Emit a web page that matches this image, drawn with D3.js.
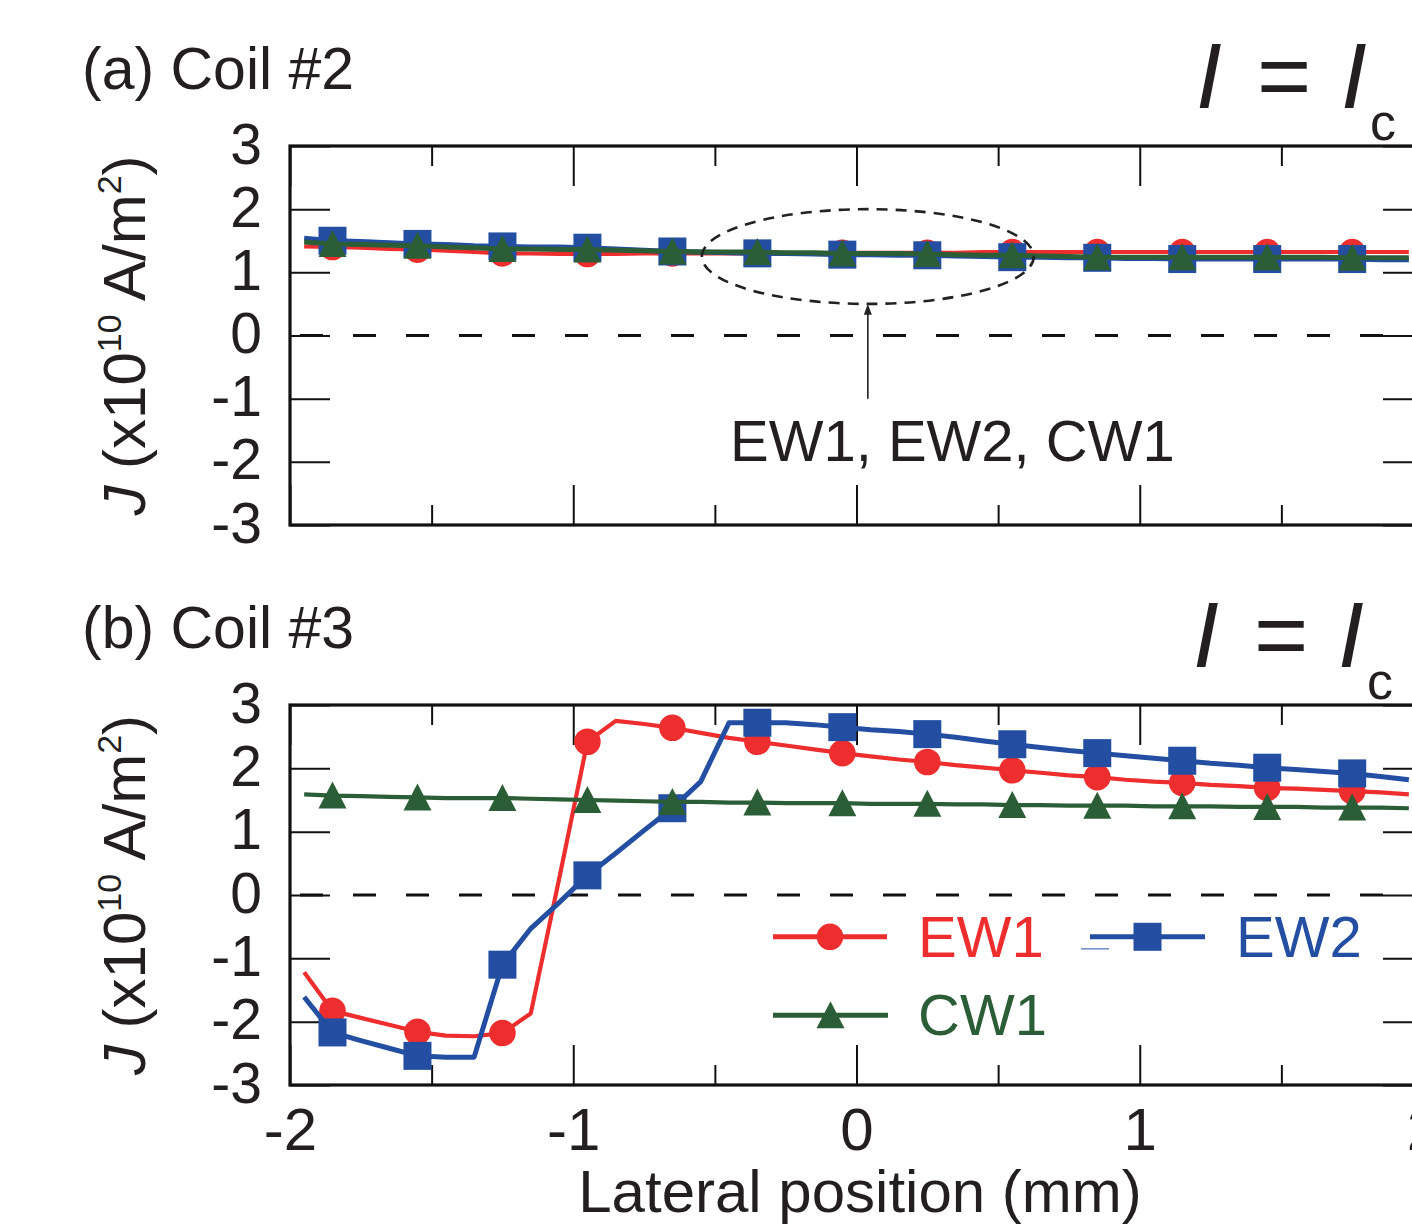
<!DOCTYPE html>
<html>
<head>
<meta charset="utf-8">
<script src="https://cdn.jsdelivr.net/npm/d3@7"></script>
<style>
  html, body { margin: 0; padding: 0; background: #fff; }
  svg { display: block; }
  text { font-family: "Liberation Sans", Arial, Helvetica, sans-serif; fill: #231f20; }
</style>
</head>
<body>
<svg id="chart" width="1412" height="1227"></svg>
<script>
// ---------------- data ----------------
const xPos = [-1.95,-1.85,-1.75,-1.65,-1.55,-1.45,-1.35,-1.25,-1.15,-1.05,
              -0.95,-0.85,-0.75,-0.65,-0.55,-0.45,-0.35,-0.25,-0.15,-0.05,
               0.05, 0.15, 0.25, 0.35, 0.45, 0.55, 0.65, 0.75, 0.85, 0.95,
               1.05, 1.15, 1.25, 1.35, 1.45, 1.55, 1.65, 1.75, 1.85, 1.95];
const markerX = [-1.85,-1.55,-1.25,-0.95,-0.65,-0.35,-0.05,0.25,0.55,0.85,1.15,1.45,1.75];

// Panel (a) Coil #2
const a_EW1 = [1.41,1.40,1.39,1.37,1.36,1.34,1.32,1.30,1.30,1.29,
               1.29,1.29,1.30,1.30,1.30,1.30,1.30,1.30,1.30,1.31,
               1.31,1.31,1.31,1.31,1.32,1.32,1.32,1.32,1.32,1.32,
               1.32,1.32,1.32,1.32,1.32,1.32,1.32,1.32,1.32,1.32];
const a_EW2 = [1.54,1.50,1.49,1.47,1.45,1.44,1.42,1.41,1.40,1.40,
               1.39,1.37,1.35,1.33,1.32,1.31,1.30,1.30,1.29,1.28,
               1.28,1.27,1.27,1.26,1.25,1.24,1.24,1.23,1.23,1.22,
               1.22,1.21,1.21,1.21,1.21,1.21,1.21,1.21,1.20,1.20];
const a_CW1 = [1.48,1.45,1.44,1.43,1.42,1.40,1.39,1.37,1.37,1.36,
               1.36,1.35,1.34,1.33,1.32,1.32,1.32,1.31,1.31,1.30,
               1.30,1.30,1.29,1.28,1.27,1.27,1.26,1.25,1.24,1.24,
               1.24,1.24,1.24,1.24,1.24,1.24,1.24,1.23,1.23,1.23];

// Panel (b) Coil #3
const b_EW1 = [-1.22,-1.83,-1.94,-2.05,-2.16,-2.22,-2.23,-2.18,-1.87,0.25,
                2.42, 2.75, 2.70, 2.64, 2.56, 2.48, 2.42, 2.36, 2.30, 2.24,
                2.19, 2.14, 2.10, 2.05, 2.01, 1.97, 1.93, 1.89, 1.86, 1.82,
                1.79, 1.77, 1.74, 1.72, 1.69, 1.68, 1.66, 1.64, 1.62, 1.59];
const b_EW2 = [-1.61,-2.17,-2.30,-2.42,-2.54,-2.56,-2.56,-1.10,-0.53,-0.12,
                0.31, 0.66, 1.02, 1.37, 1.79, 2.72, 2.72, 2.72, 2.69, 2.65,
                2.61, 2.58, 2.54, 2.49, 2.43, 2.38, 2.33, 2.28, 2.24, 2.20,
                2.16, 2.12, 2.08, 2.05, 2.01, 1.98, 1.95, 1.92, 1.87, 1.82];
const b_CW1 = [1.59,1.57,1.56,1.55,1.54,1.53,1.53,1.53,1.52,1.51,
               1.50,1.49,1.48,1.47,1.47,1.46,1.46,1.45,1.45,1.45,
               1.44,1.44,1.44,1.43,1.43,1.42,1.42,1.41,1.41,1.41,
               1.40,1.40,1.40,1.39,1.39,1.39,1.38,1.38,1.38,1.37];

const seriesNames = ["EW1","EW2","CW1"];
const yTicks = [-3,-2,-1,0,1,2,3];
const xMajor = [-2,-1,0,1,2];
const xMinor = [-1.5,-0.5,0.5,1.5];
const panelTitles = ["(a) Coil #2","(b) Coil #3"];

// ---------------- styles ----------------
const colors = {EW1:"#ee2e2e", EW2:"#234ea1", CW1:"#2b5e36"};
const FONT = '"Liberation Sans", Arial, Helvetica, sans-serif';

const svg = d3.select("#chart");
const x = d3.scaleLinear().domain([-2,2]).range([290,1423]);

const panels = [
  {title: panelTitles[0], top:146, bottom:525, data:{EW1:a_EW1, EW2:a_EW2, CW1:a_CW1}, xlabels:false, w:{EW1:4,EW2:5,CW1:5}},
  {title: panelTitles[1], top:705, bottom:1085, data:{EW1:b_EW1, EW2:b_EW2, CW1:b_CW1}, xlabels:true, w:{EW1:4.2,EW2:5,CW1:4.2}}
];

panels.forEach((p, pi) => {
  const y = d3.scaleLinear().domain([-3,3]).range([p.bottom, p.top]);
  const g = svg.append("g");
  const clipId = "clip"+pi;
  svg.append("clipPath").attr("id", clipId).append("rect")
     .attr("x", x(-2)).attr("y", p.top).attr("width", x(2)-x(-2)).attr("height", p.bottom-p.top);

  // zero dashed line
  g.append("line").attr("x1", x(-2)).attr("x2", x(2)).attr("y1", y(0)).attr("y2", y(0))
    .attr("stroke","#111").attr("stroke-width",3).attr("stroke-dasharray","23,30").attr("stroke-dashoffset","-10");

  // axes (ticks inward)
  const left = d3.axisLeft(y).tickValues(yTicks).tickSize(-40).tickPadding(28).tickFormat(d=>String(d));
  const right = d3.axisRight(y).tickValues(yTicks).tickSize(-40).tickFormat("");
  const topMaj = d3.axisTop(x).tickValues(xMajor).tickSize(-40).tickFormat("");
  const topMin = d3.axisTop(x).tickValues(xMinor).tickSize(-20).tickFormat("");
  const botMaj = d3.axisBottom(x).tickValues(xMajor).tickSize(-40).tickPadding(22).tickFormat(p.xlabels ? (d=>String(d)) : "");
  const botMin = d3.axisBottom(x).tickValues(xMinor).tickSize(-20).tickFormat("");

  const axG = [
    g.append("g").attr("transform",`translate(${x(-2)},0)`).call(left),
    g.append("g").attr("transform",`translate(${x(2)},0)`).call(right),
    g.append("g").attr("transform",`translate(0,${p.top})`).call(topMaj),
    g.append("g").attr("transform",`translate(0,${p.top})`).call(topMin),
    g.append("g").attr("transform",`translate(0,${p.bottom})`).call(botMaj),
    g.append("g").attr("transform",`translate(0,${p.bottom})`).call(botMin)
  ];
  axG.forEach(a => {
    a.select(".domain").remove();
    a.selectAll(".tick line").attr("stroke","#111").attr("stroke-width",2);
    a.selectAll(".tick text").attr("font-family",FONT).attr("font-size",57).attr("fill","#111");
  });
  axG[0].selectAll(".tick text").attr("dy","0.3em");
  axG[4].selectAll(".tick text").attr("font-size",60).attr("dy","0.72em");

  // frame
  g.append("rect").attr("x", x(-2)).attr("y", p.top).attr("width", x(2)-x(-2)).attr("height", p.bottom-p.top)
    .attr("fill","none").attr("stroke","#111").attr("stroke-width",3.2);

  // series
  const dg = g.append("g").attr("clip-path",`url(#${clipId})`);
  seriesNames.forEach(name => {
    const vals = p.data[name];
    const pts = xPos.map((xv,i)=>[xv, vals[i]]);
    const line = d3.line().x(d=>x(d[0])).y(d=>y(d[1]));
    dg.append("path").datum(pts).attr("d", line).attr("fill","none")
      .attr("stroke", colors[name]).attr("stroke-width", p.w[name]).attr("stroke-linejoin","round");
    const mk = pts.filter(d => markerX.some(m => Math.abs(m-d[0])<1e-6));
    drawMarkers(dg, name, mk.map(d=>[x(d[0]), y(d[1])]));
  });

  // panel title
  svg.append("text").attr("x", 82).attr("y", p.top-57).attr("font-size",59).text(p.title);

  // I = Ic
  const base = p.top - 38;
  const dx = pi === 0 ? 0 : -3;
  svg.append("text").attr("x", 1196+dx).attr("y", base).attr("font-size",93).attr("font-style","italic").text("I");
  svg.append("text").attr("x", 1257+dx).attr("y", base).attr("font-size",93).text("=");
  svg.append("text").attr("x", 1341+dx).attr("y", base).attr("font-size",93).attr("font-style","italic").text("I");
  svg.append("text").attr("x", 1370+dx).attr("y", base+32).attr("font-size",52).text("c");

  // y-axis label
  const cy = (p.top+p.bottom)/2;
  const yl = svg.append("text").attr("transform",`translate(145,${cy}) rotate(-90)`)
    .attr("text-anchor","middle").attr("font-size",60);
  yl.append("tspan").attr("font-style","italic").text("J");
  yl.append("tspan").text(" (x10");
  yl.append("tspan").attr("font-size",34).attr("dy",-24).text("10");
  yl.append("tspan").attr("dy",24).text(" A/m");
  yl.append("tspan").attr("font-size",34).attr("dy",-24).text("2");
  yl.append("tspan").attr("dy",24).text(")");

  if(pi===0){
    // annotation ellipse + arrow
    g.append("ellipse").attr("cx", x(0.04)).attr("cy", y(1.25))
      .attr("rx", x(0.04+0.586)-x(0.04)).attr("ry", y(1.25)-y(2.0))
      .attr("fill","none").attr("stroke","#222").attr("stroke-width",2.6).attr("stroke-dasharray","11,8");
    const ax = x(0.04);
    g.append("line").attr("x1",ax).attr("x2",ax).attr("y1",y(-1.0)).attr("y2",y(0.38))
      .attr("stroke","#222").attr("stroke-width",1.6);
    g.append("path").attr("d",`M${ax},${y(0.5)} L${ax-4},${y(0.33)} L${ax+4},${y(0.33)} Z`).attr("fill","#222");
    svg.append("text").attr("x",730).attr("y",461).attr("font-size",58).text("EW1, EW2, CW1");
  } else {
    // legend
    const leg = g.append("g");
    const items = [
      {name:"EW1", x1:773, x2:887, y:y(-0.66), tx:918},
      {name:"EW2", x1:1090, x2:1205, y:y(-0.66), tx:1236},
      {name:"CW1", x1:773, x2:888, y:y(-1.9), tx:918}
    ];
    leg.append("line").attr("x1",1081).attr("x2",1109).attr("y1",y(-0.85)).attr("y2",y(-0.85))
      .attr("stroke","#6f8cc4").attr("stroke-width",1.5);
    items.forEach(it => {
      leg.append("line").attr("x1",it.x1).attr("x2",it.x2).attr("y1",it.y).attr("y2",it.y)
        .attr("stroke",colors[it.name]).attr("stroke-width",5);
      drawMarkers(leg, it.name, [[(it.x1+it.x2)/2, it.y]]);
      leg.append("text").attr("x",it.tx).attr("y",it.y+20).attr("font-size",58)
        .style("fill",colors[it.name]).text(it.name);
    });
  }
});

// x-axis title
svg.append("text").attr("x",860).attr("y",1212).attr("text-anchor","middle").attr("font-size",60)
  .text("Lateral position (mm)");

function drawMarkers(sel, name, pts){
  const c = colors[name];
  if(name==="EW1"){
    sel.selectAll(null).data(pts).enter().append("circle")
      .attr("cx",d=>d[0]).attr("cy",d=>d[1]).attr("r",13.3).attr("fill",c);
  } else if(name==="EW2"){
    sel.selectAll(null).data(pts).enter().append("rect")
      .attr("x",d=>d[0]-14).attr("y",d=>d[1]-14).attr("width",28).attr("height",28).attr("fill",c);
  } else {
    sel.selectAll(null).data(pts).enter().append("path")
      .attr("d",d=>`M${d[0]},${d[1]-14} L${d[0]+14},${d[1]+13} L${d[0]-14},${d[1]+13} Z`).attr("fill",c);
  }
}
</script>
</body>
</html>
